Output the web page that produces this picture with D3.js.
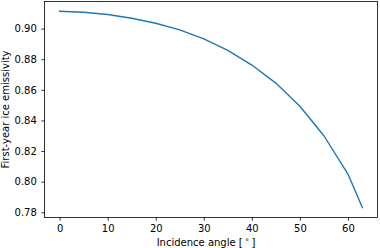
<!DOCTYPE html>
<html><head><meta charset="utf-8">
<script src="https://cdn.jsdelivr.net/npm/d3@7"></script>
<style>body{margin:0;background:#fff}svg{display:block}text{font-family:"DejaVu Sans",sans-serif;fill:#000}</style>
</head><body>
<svg id="c" width="380" height="248"></svg>
<script>
const angles = [0, 5, 10, 15, 20, 25, 30, 35, 40, 45, 50, 55, 60, 63];
const emissivity = [0.9113, 0.9107, 0.9092, 0.9068, 0.9035, 0.8992, 0.8933, 0.8858, 0.8762, 0.8644, 0.8493, 0.8300, 0.8050, 0.7830];
const xTicks = [0, 10, 20, 30, 40, 50, 60];
const yTicks = [0.78, 0.80, 0.82, 0.84, 0.86, 0.88, 0.90];
const xLabel = "Incidence angle [";
const yLabel = "First-year ice emissivity";

const svg = d3.select("#c");
const L = 44.5, R = 377.5, T = 1.5, B = 217.5;
const xmin = d3.min(angles), xmax = d3.max(angles), xm = (xmax - xmin) * 0.05;
const ymin = d3.min(emissivity), ymax = d3.max(emissivity), ym = (ymax - ymin) * 0.05;
const x = d3.scaleLinear().domain([xmin - xm, xmax + xm]).range([L, R]);
const y = d3.scaleLinear().domain([ymin - ym, ymax + ym]).range([B, T]);

const line = d3.line().x((d, i) => x(angles[i])).y(d => y(d));
svg.append("path").datum(emissivity).attr("d", line)
  .attr("fill", "none").attr("stroke", "#1f77b4").attr("stroke-width", 1.4)
  .attr("stroke-linejoin", "round").attr("stroke-linecap", "square");

const xAxis = svg.append("g").attr("transform", `translate(0,${B})`)
  .call(d3.axisBottom(x).tickValues(xTicks).tickFormat(d3.format("d")).tickSize(3.2).tickPadding(4));
const yAxis = svg.append("g").attr("transform", `translate(${L},0)`)
  .call(d3.axisLeft(y).tickValues(yTicks).tickFormat(d3.format(".2f")).tickSize(3.2).tickPadding(4.5));
[xAxis, yAxis].forEach(a => {
  a.select(".domain").remove();
  a.selectAll("line").attr("stroke", "#000").attr("stroke-width", 0.8);
  a.selectAll("text").style("font-size", "10px").style("font-family", "DejaVu Sans").attr("fill", "#000");
});

svg.append("rect").attr("x", L).attr("y", T).attr("width", R - L).attr("height", B - T)
  .attr("fill", "none").attr("stroke", "#000").attr("stroke-width", 0.8);

const xl = svg.append("text").attr("x", 206).attr("y", 245.5).attr("text-anchor", "middle")
  .style("font-size", "10px");
xl.append("tspan").text(xLabel + "\u2009");
xl.append("tspan").attr("dy", -4).style("font-size", "7.5px").text("\u2218");
xl.append("tspan").attr("dy", 4).text("\u2009]");

svg.append("text").attr("transform", `translate(9,${(T + B) / 2}) rotate(-90)`)
  .attr("text-anchor", "middle").style("font-size", "10px").text(yLabel);
</script>
</body></html>
